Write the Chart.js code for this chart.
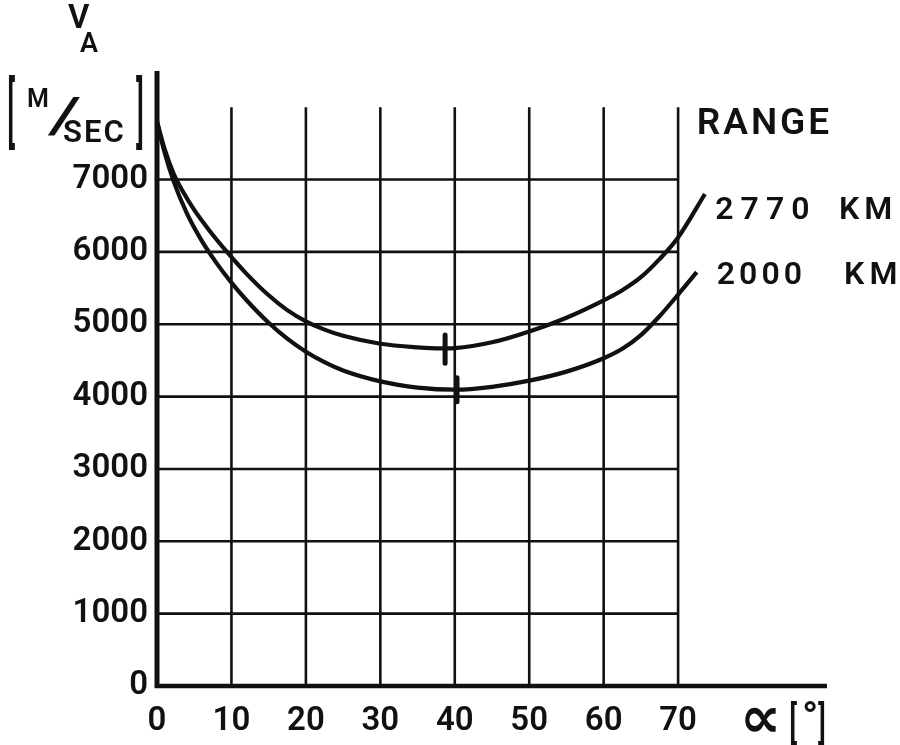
<!DOCTYPE html>
<html>
<head>
<meta charset="utf-8">
<script src="https://cdn.jsdelivr.net/npm/chart.js@4.4.0/dist/chart.umd.min.js"></script>
<style>
  html, body { margin: 0; padding: 0; background: #fff; }
  #wrap { width: 900px; height: 745px; }
</style>
</head>
<body>
<div id="wrap"><canvas id="chart" width="900" height="745"></canvas></div>
<script>
// launch angle alpha [deg] against velocity V_A [m/sec]
const alpha2770 = [0, 1, 2.2, 3.5, 5, 7, 9.4, 12, 15, 17.5, 20, 22.5, 25, 30, 35, 38, 40, 45, 50, 55, 60, 62.5, 65, 67.5, 70, 73.6];
const v2770     = [7800, 7430, 7090, 6830, 6580, 6300, 6000, 5700, 5400, 5195, 5040, 4925, 4840, 4730, 4680, 4665, 4670, 4750, 4900, 5090, 5330, 5470, 5650, 5900, 6200, 6800];

const alpha2000 = [0, 1, 2.2, 4, 6, 8, 10, 12, 15, 17.5, 20, 22.5, 25, 30, 35, 40, 45, 50, 55, 60, 62.5, 65, 67.5, 70, 72.5];
const v2000     = [7800, 7380, 6985, 6535, 6155, 5845, 5575, 5335, 5020, 4800, 4620, 4475, 4360, 4210, 4125, 4095, 4135, 4220, 4345, 4530, 4660, 4850, 5110, 5410, 5720];

// the little bars drawn across each curve at its minimum
const minMark2770 = { alpha: [38.7, 38.7], v: [4850, 4460] };
const minMark2000 = { alpha: [40.3, 40.3], v: [4260, 3930] };

// tick labels
const xTicks = [0, 10, 20, 30, 40, 50, 60, 70];
const yTicks = [0, 1000, 2000, 3000, 4000, 5000, 6000, 7000];
const gridTop = 8000;      // vertical grid lines run up to here
const xMax = 90, yMax = 8500;

const FAMILY = 'Roboto, "DejaVu Sans", sans-serif';
const INK = '#111';

const pts = (xs, ys) => xs.map((x, i) => ({ x: x, y: ys[i] }));
const last = (arr) => arr[arr.length - 1];

// hand-drawn style grid: only inside 0..70 / 0..8000, axes run further out
const paperGrid = {
  id: 'paperGrid',
  beforeDatasetsDraw(chart) {
    const { ctx, scales: { x, y } } = chart;
    ctx.save();
    ctx.strokeStyle = INK;
    ctx.lineCap = 'butt';
    ctx.lineWidth = 2.6;
    xTicks.slice(1).forEach((a) => {
      ctx.beginPath();
      ctx.moveTo(x.getPixelForValue(a), y.getPixelForValue(0));
      ctx.lineTo(x.getPixelForValue(a), y.getPixelForValue(gridTop));
      ctx.stroke();
    });
    yTicks.slice(1).forEach((v) => {
      ctx.beginPath();
      ctx.moveTo(x.getPixelForValue(0), y.getPixelForValue(v));
      ctx.lineTo(x.getPixelForValue(last(xTicks)), y.getPixelForValue(v));
      ctx.stroke();
    });
    // axes
    ctx.lineWidth = 5;
    ctx.beginPath();
    ctx.moveTo(x.getPixelForValue(0), y.getPixelForValue(0) + 2);
    ctx.lineTo(x.getPixelForValue(0), y.getPixelForValue(yMax));
    ctx.stroke();
    ctx.lineWidth = 4.5;
    ctx.beginPath();
    ctx.moveTo(x.getPixelForValue(0) - 2, y.getPixelForValue(0));
    ctx.lineTo(x.getPixelForValue(xMax), y.getPixelForValue(0));
    ctx.stroke();
    ctx.restore();
  }
};

function txt(ctx, s, px, py, size, spacing, weight) {
  ctx.font = (weight || '600') + ' ' + size + 'px ' + FAMILY;
  ctx.letterSpacing = (spacing || 0) + 'px';
  ctx.textAlign = 'left';
  ctx.textBaseline = 'middle';
  ctx.fillText(s, px, py);
}

// stretch a glyph so its ink fills the given box (brackets, slash)
function fitGlyph(ctx, s, left, top, w, h, size, weight) {
  ctx.save();
  ctx.font = (weight || '500') + ' ' + size + 'px ' + FAMILY;
  ctx.letterSpacing = '0px';
  ctx.textAlign = 'left';
  ctx.textBaseline = 'alphabetic';
  const m = ctx.measureText(s);
  const gw = m.actualBoundingBoxLeft + m.actualBoundingBoxRight;
  const gh = m.actualBoundingBoxAscent + m.actualBoundingBoxDescent;
  ctx.translate(left, top);
  ctx.scale(w ? w / gw : 1, h / gh);
  ctx.fillText(s, m.actualBoundingBoxLeft, m.actualBoundingBoxAscent);
  ctx.restore();
}

const annotations = {
  id: 'annotations',
  afterDraw(chart) {
    const { ctx, chartArea: ca, scales: { x, y } } = chart;
    ctx.save();
    ctx.fillStyle = INK;

    // y axis title: V_A [M/SEC]
    txt(ctx, 'V', ca.left - 89, ca.top - 51, 33);
    txt(ctx, 'A', ca.left - 77, ca.top - 26, 27);
    fitGlyph(ctx, '[', ca.left - 149, ca.top + 6, 0, 74, 30);
    txt(ctx, 'M', ca.left - 130, ca.top + 30, 25);
    fitGlyph(ctx, '/', ca.left - 110, ca.top + 27, 34, 39, 48, '400');
    txt(ctx, 'SEC', ca.left - 94, ca.top + 63, 31, 2);
    fitGlyph(ctx, ']', ca.left - 21, ca.top + 6, 0, 74, 30);

    // curve legend
    txt(ctx, 'RANGE', x.getPixelForValue(72.5), y.getPixelForValue(7760), 37, 3);
    txt(ctx, '2770', x.getPixelForValue(75), y.getPixelForValue(6560), 32, 7);
    txt(ctx, 'KM', x.getPixelForValue(91.6), y.getPixelForValue(6560), 32, 5);
    txt(ctx, '2000', x.getPixelForValue(75.2), y.getPixelForValue(5670), 32, 4);
    txt(ctx, 'KM', x.getPixelForValue(92.3), y.getPixelForValue(5670), 32, 5);

    // x axis title: alpha [deg]
    ctx.font = 'bold 58px "DejaVu Sans", sans-serif';
    ctx.letterSpacing = '0px';
    ctx.textAlign = 'left';
    ctx.textBaseline = 'middle';
    ctx.fillText('\u221D', ca.left + 583, ca.bottom + 36);
    fitGlyph(ctx, '[', ca.left + 633, ca.bottom + 17, 0, 42, 30);
    txt(ctx, '\u00B0', ca.left + 645, ca.bottom + 34, 42, 0, 'bold');
    fitGlyph(ctx, ']', ca.left + 661, ca.bottom + 17, 0, 42, 30);

    ctx.restore();
  }
};

const curveStyle = {
  borderColor: INK,
  borderWidth: 4.2,
  pointRadius: 0,
  fill: false,
  cubicInterpolationMode: 'monotone'
};
const markStyle = {
  borderColor: INK,
  borderWidth: 5,
  borderCapStyle: 'round',
  pointRadius: 0,
  fill: false
};

const tickFont = { family: FAMILY, size: 33, weight: '600' };

new Chart(document.getElementById('chart'), {
  type: 'line',
  data: {
    datasets: [
      Object.assign({ label: '2770 KM', data: pts(alpha2770, v2770) }, curveStyle),
      Object.assign({ label: '2000 KM', data: pts(alpha2000, v2000) }, curveStyle),
      Object.assign({ label: 'min 2770', data: pts(minMark2770.alpha, minMark2770.v) }, markStyle),
      Object.assign({ label: 'min 2000', data: pts(minMark2000.alpha, minMark2000.v) }, markStyle)
    ]
  },
  options: {
    responsive: false,
    animation: false,
    layout: { padding: { top: 71, right: 73, left: 0, bottom: 0 } },
    plugins: {
      legend: { display: false },
      tooltip: { enabled: false }
    },
    scales: {
      x: {
        type: 'linear',
        min: 0,
        max: xMax,
        grid: { display: false, drawTicks: false },
        border: { display: false },
        afterBuildTicks: (s) => { s.ticks = xTicks.map((v) => ({ value: v })); },
        ticks: { color: INK, padding: 16, maxRotation: 0, font: tickFont, callback: (v) => String(v) },
        afterFit: (s) => { s.height = 59; }
      },
      y: {
        type: 'linear',
        min: 0,
        max: yMax,
        grid: { display: false, drawTicks: false },
        border: { display: false },
        afterBuildTicks: (s) => { s.ticks = yTicks.map((v) => ({ value: v })); },
        ticks: { color: INK, padding: 9, font: tickFont, callback: (v) => String(v) },
        afterFit: (s) => { s.width = 157; }
      }
    }
  },
  plugins: [paperGrid, annotations]
});
</script>
</body>
</html>
